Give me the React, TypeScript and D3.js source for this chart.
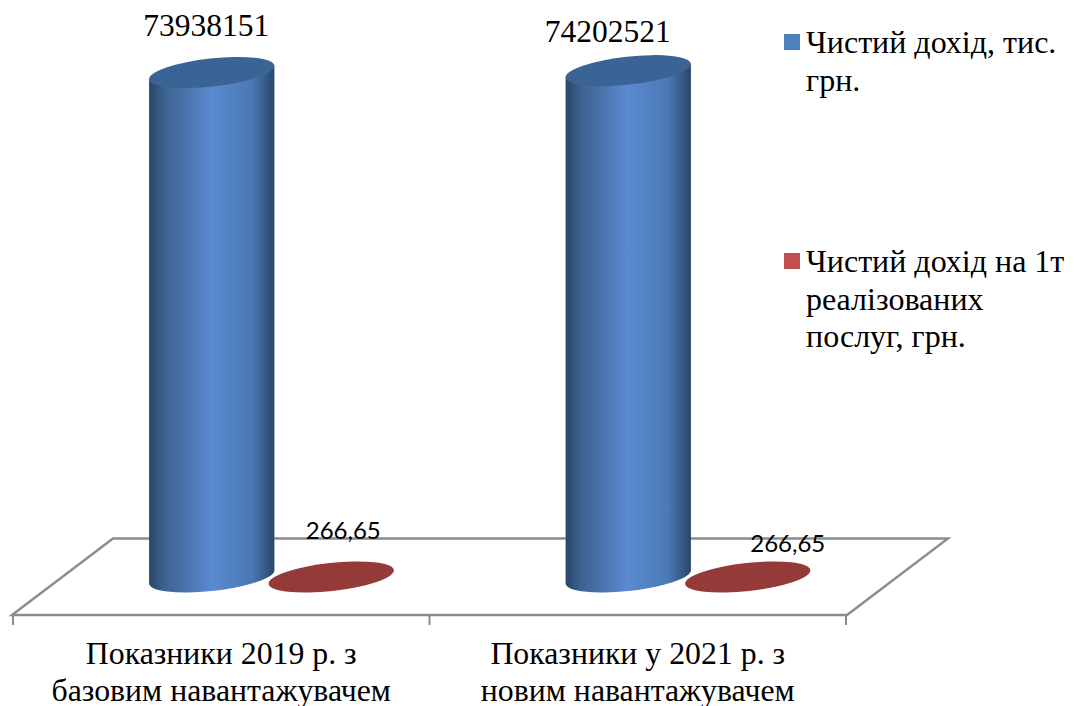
import React from "react";
import * as d3 from "d3";

const categories = ["2019", "2021"];
const categoryLines = [
  ["Показники 2019 р. з", "базовим навантажувачем"],
  ["Показники у 2021 р. з", "новим навантажувачем"],
];
const seriesNames = ["income", "incomePerTonne"];
const incomeValues = [73938151, 74202521];
const incomePerTonneValues = [266.65, 266.65];
const incomeLabels = ["73938151", "74202521"];
const incomePerTonneLabels = ["266,65", "266,65"];
const legendLines = [
  ["Чистий дохід, тис.", "грн."],
  ["Чистий дохід на 1т", "реалізованих", "послуг, грн."],
];

const WIDTH = 1074;
const HEIGHT = 706;
const SERIF = "'Liberation Serif', serif";
const LABEL_FONT = "Lato, 'Open Sans', sans-serif";

const FLOOR_Y = 577;
const FRONT_Y = 615;
const BACK_Y = 538.5;
const RX = 63;
const RY = 14;
const TILT = -6.3;

// Horizontal reach of the tilted end cap and the vertical shift of its extreme points.
const theta = (TILT * Math.PI) / 180;
const capReach = Math.sqrt(RX * RX * Math.cos(theta) ** 2 + RY * RY * Math.sin(theta) ** 2);
const capShift = ((RX * RX - RY * RY) * Math.abs(Math.sin(theta)) * Math.cos(theta)) / capReach;

const xOuter = d3.scaleBand<string>().domain(categories).range([13, 846]);
const xInner = d3.scaleOrdinal<string, number>().domain(seriesNames).range([-9.5, 110]);
const y = d3.scaleLinear().domain([0, 80000000]).range([FLOOR_Y, 31.1]);

const centerX = (cat: string, series: string) =>
  (xOuter(cat) as number) + xOuter.bandwidth() / 2 + xInner(series);

function Cylinder({ cx, value, index, color }: { cx: number; value: number; index: number; color: string }) {
  const top = y(value);
  const base = y(0);
  const left = cx - capReach;
  const right = cx + capReach;
  const body = [
    `M${left},${top + capShift}`,
    `L${left},${base + capShift}`,
    `A${RX},${RY} ${TILT} 0 0 ${right},${base - capShift}`,
    `L${right},${top - capShift}`,
    "Z",
  ].join(" ");
  return (
    <g>
      <defs>
        <linearGradient id={`cyl-${index}`} gradientUnits="userSpaceOnUse" x1={left} x2={right} y1={0} y2={0}>
          <stop offset="0" stopColor="#2a4568" />
          <stop offset="0.12" stopColor="#3c628f" />
          <stop offset="0.5" stopColor="#5a8ad0" />
          <stop offset="0.82" stopColor="#4a79b5" />
          <stop offset="1" stopColor="#2a4568" />
        </linearGradient>
      </defs>
      <path d={body} fill={`url(#cyl-${index})`} />
      <ellipse cx={cx} cy={top} rx={RX} ry={RY} transform={`rotate(${TILT} ${cx} ${top})`} fill={color} />
    </g>
  );
}

export default function App() {
  const floorOutline = `M12,${FRONT_Y} L113,${BACK_Y} L948,${BACK_Y} L847,${FRONT_Y} Z`;
  const tickXs = [13, xOuter(categories[1]) as number, 846];
  return (
    <svg
      width={WIDTH}
      height={HEIGHT}
      viewBox={`0 0 ${WIDTH} ${HEIGHT}`}
      style={{ position: "absolute", left: 0, top: 0, background: "#fff" }}
    >
      {/* Chart floor and category ticks */}
      <path d={floorOutline} fill="none" stroke="#8c8c8c" strokeWidth={2.4} strokeLinejoin="miter" />
      {tickXs.map((t, i) => (
        <line key={i} x1={t} x2={t} y1={FRONT_Y} y2={625} stroke="#8c8c8c" strokeWidth={2} />
      ))}

      {/* Flat discs for the per-tonne series */}
      {categories.map((c, i) => {
        const cx = centerX(c, "incomePerTonne");
        const cy = y(incomePerTonneValues[i]);
        return (
          <ellipse key={c} cx={cx} cy={cy} rx={RX} ry={RY} transform={`rotate(${TILT} ${cx} ${cy})`} fill="#943a39" />
        );
      })}

      {/* Income cylinders */}
      {categories.map((c, i) => (
        <Cylinder key={c} cx={centerX(c, "income")} value={incomeValues[i]} index={i} color="#3b6496" />
      ))}

      {/* Value labels */}
      {categories.map((c, i) => (
        <text
          key={c}
          x={centerX(c, "income") - 5.5 - i * 15}
          y={y(incomeValues[i]) - 36 + i * 7}
          textAnchor="middle"
          fontFamily={SERIF}
          fontSize={31.5}
          fill="#000"
        >
          {incomeLabels[i]}
        </text>
      ))}
      {categories.map((c, i) => (
        <text
          key={c}
          x={centerX(c, "incomePerTonne") + 12 + i * 28}
          y={539 + i * 13}
          textAnchor="middle"
          fontFamily={LABEL_FONT}
          fontSize={24}
          fill="#000"
        >
          {incomePerTonneLabels[i]}
        </text>
      ))}

      {/* Category labels */}
      {categories.map((c, i) =>
        categoryLines[i].map((line, k) => (
          <text
            key={k}
            x={(xOuter(c) as number) + xOuter.bandwidth() / 2}
            y={664 + k * 36.5}
            textAnchor="middle"
            fontFamily={SERIF}
            fontSize={31.8}
            fill="#000"
          >
            {line}
          </text>
        ))
      )}

      {/* Legend */}
      {legendLines.map((lines, i) => {
        const lineY = i === 0 ? 53 : 272;
        return (
          <g key={i}>
            <rect x={784} y={lineY - 19} width={16} height={16} fill={i === 0 ? "#4f81bd" : "#c0504d"} />
            {lines.map((line, k) => (
              <text key={k} x={806} y={lineY + k * 37.5} fontFamily={SERIF} fontSize={32} fill="#000">
                {line}
              </text>
            ))}
          </g>
        );
      })}
    </svg>
  );
}
